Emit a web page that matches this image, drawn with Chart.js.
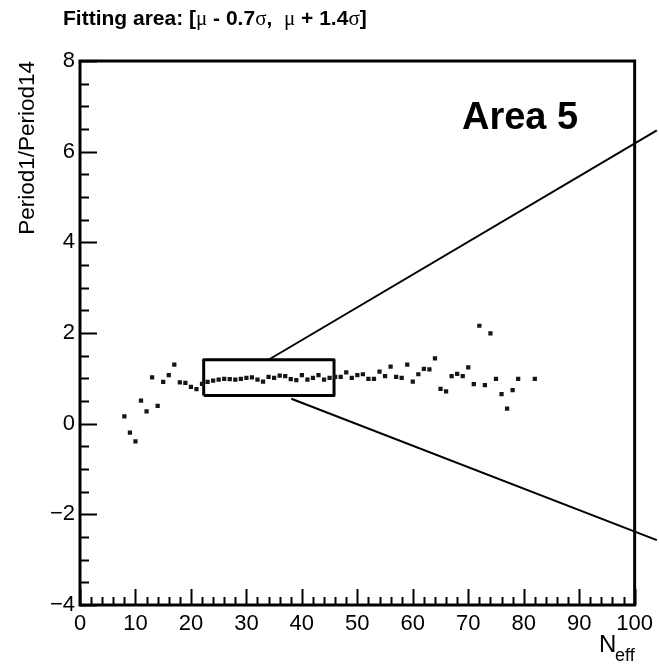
<!DOCTYPE html>
<html>
<head>
<meta charset="utf-8">
<script src="https://cdn.jsdelivr.net/npm/chart.js@4/dist/chart.umd.min.js"></script>
<style>
    html, body { margin: 0; padding: 0; background: #fff; }
    #wrap { position: relative; width: 659px; height: 665px; overflow: hidden; }
    #chart { position: absolute; left: 0; top: 0; }
    .txt { position: absolute; white-space: nowrap; line-height: 1; color: #000; font-family: "Liberation Sans", Arial, sans-serif; }
    .title { left: 63px; top: 7px; font-size: 21px; font-weight: bold; }
    .title .g { font-family: "Liberation Serif", serif; font-weight: normal; }
    .area { left: 462px; top: 97px; font-size: 38px; font-weight: bold; }
    .xn { left: 599px; top: 632px; font-size: 24px; }
    .xsub { left: 615px; top: 646px; font-size: 18px; }
</style>
</head>
<body>
<div id="wrap">
    <canvas id="chart" width="659" height="665"></canvas>
    <div class="txt title">Fitting area: [<span class="g">μ</span> - 0.7<span class="g">σ</span>,&nbsp; <span class="g">μ</span> + 1.4<span class="g">σ</span>]</div>
    <div class="txt area">Area 5</div>
    <div class="txt xn">N</div>
    <div class="txt xsub">eff</div>
</div>
<script>
// N_eff bins and Period1/Period14 ratio
const nEff = [
    8, 9, 10, 11, 12, 13, 14, 15, 16, 17, 18, 19, 20, 21, 22, 23, 24, 25,
    26, 27, 28, 29, 30, 31, 32, 33, 34, 35, 36, 37, 38, 39, 40, 41, 42, 43,
    44, 45, 46, 47, 48, 49, 50, 51, 52, 53, 54, 55, 56, 57, 58, 59, 60, 61,
    62, 63, 64, 65, 66, 67, 68, 69, 70, 71, 72, 73, 74, 75, 76, 77, 78, 79, 82
];
const ratio = [
    0.16, -0.20, -0.39, 0.51, 0.27, 1.02, 0.39, 0.92, 1.07, 1.30, 0.91, 0.90, 0.81, 0.76, 0.88, 0.92, 0.95, 0.97,
    0.99, 0.98, 0.97, 0.99, 1.01, 1.02, 0.97, 0.93, 1.03, 1.01, 1.06, 1.05, 0.98, 0.96, 1.07, 0.97, 1.01, 1.07,
    0.97, 1.01, 1.03, 1.03, 1.13, 1.01, 1.07, 1.09, 0.99, 0.99, 1.15, 1.05, 1.26, 1.03, 1.01, 1.30, 0.93, 1.09,
    1.21, 1.20, 1.44, 0.77, 0.71, 1.05, 1.10, 1.05, 1.24, 0.87, 2.16, 0.85, 1.99, 0.99, 0.65, 0.33, 0.74, 0.99, 0.99
];

// axis ticks
const xTicks = [0, 10, 20, 30, 40, 50, 60, 70, 80, 90, 100];
const yTicks = [-4, -2, 0, 2, 4, 6, 8];

// zoom box corners and the two guide lines leaving it
const boxX = [22.3, 45.8];
const boxY = [0.62, 1.41];
const upperLineX = [34.0, 104];
const upperLineY = [1.41, 6.47];
const lowerLineX = [38.1, 104];
const lowerLineY = [0.55, -2.57];

const ctx = document.getElementById('chart');

const FONT = '"Liberation Sans", Arial, sans-serif';

// ---------- points ----------
const points = nEff.map((x, i) => ({ x: x, y: ratio[i] }));

const boxPath = [
    { x: boxX[0], y: boxY[0] },
    { x: boxX[0], y: boxY[1] },
    { x: boxX[1], y: boxY[1] },
    { x: boxX[1], y: boxY[0] },
    { x: boxX[0], y: boxY[0] }
];

const upperLine = upperLineX.map((x, i) => ({ x: x, y: upperLineY[i] }));
const lowerLine = lowerLineX.map((x, i) => ({ x: x, y: lowerLineY[i] }));

// ---------- frame + ticks pointing inwards ----------
const frameTicks = {
    id: 'frameTicks',
    afterDraw(chart) {
        const { ctx: c, chartArea: a, scales } = chart;
        const xs = scales.x;
        const ys = scales.y;

        c.save();
        c.strokeStyle = '#000';
        c.lineWidth = 2;
        c.lineCap = 'butt';

        c.beginPath();
        for (let v = xs.min; v <= xs.max + 1e-9; v += 2) {
            const px = Math.round(xs.getPixelForValue(v)) + 0.5;
            const len = v % 10 === 0 ? 16 : 8;
            c.moveTo(px, a.bottom);
            c.lineTo(px, a.bottom - len);
        }
        for (let v = ys.min; v <= ys.max + 1e-9; v += 0.5) {
            const py = Math.round(ys.getPixelForValue(v)) + 0.5;
            const len = v % 2 === 0 ? 17 : 9;
            c.moveTo(a.left, py);
            c.lineTo(a.left + len, py);
        }
        c.stroke();

        c.lineWidth = 3;
        c.strokeRect(a.left, a.top, a.right - a.left, a.bottom - a.top);
        c.restore();
    }
};

new Chart(ctx, {
    type: 'scatter',
    data: {
        datasets: [
            {
                label: 'ratio',
                data: points,
                pointStyle: 'rect',
                pointRadius: 3,
                pointHoverRadius: 3,
                backgroundColor: '#151515',
                borderWidth: 0
            },
            {
                label: 'box',
                data: boxPath,
                showLine: true,
                borderColor: '#000',
                borderWidth: 3,
                borderJoinStyle: 'round',
                pointRadius: 0,
                tension: 0,
                clip: false
            },
            {
                label: 'upper',
                data: upperLine,
                showLine: true,
                borderColor: '#000',
                borderWidth: 2,
                pointRadius: 0,
                clip: false
            },
            {
                label: 'lower',
                data: lowerLine,
                showLine: true,
                borderColor: '#000',
                borderWidth: 2,
                pointRadius: 0,
                clip: false
            }
        ]
    },
    options: {
        responsive: false,
        animation: false,
        events: [],
        layout: {
            padding: { top: 61, right: 22, left: 0, bottom: 0 }
        },
        plugins: {
            legend: { display: false },
            title: { display: false },
            tooltip: { enabled: false }
        },
        scales: {
            x: {
                type: 'linear',
                min: xTicks[0],
                max: xTicks[xTicks.length - 1],
                afterBuildTicks: (s) => { s.ticks = xTicks.map(v => ({ value: v })); },
                afterFit: (s) => { s.height = 60; },
                grid: { display: false, drawTicks: false },
                border: { display: false },
                ticks: {
                    color: '#000',
                    padding: 6,
                    maxRotation: 0,
                    font: { family: FONT, size: 22 }
                }
            },
            y: {
                type: 'linear',
                min: yTicks[0],
                max: yTicks[yTicks.length - 1],
                afterBuildTicks: (s) => { s.ticks = yTicks.map(v => ({ value: v })); },
                afterFit: (s) => { s.width = 80; },
                grid: { display: false, drawTicks: false },
                border: { display: false },
                title: {
                    display: true,
                    text: 'Period1/Period14',
                    align: 'end',
                    color: '#000',
                    padding: { top: 14, bottom: 0 },
                    font: { family: FONT, size: 22.5 }
                },
                ticks: {
                    color: '#000',
                    padding: 5,
                    font: { family: FONT, size: 22 },
                    callback: (v) => v < 0 ? '\u2212' + Math.abs(v) : String(v)
                }
            }
        }
    },
    plugins: [frameTicks]
});
</script>
</body>
</html>
